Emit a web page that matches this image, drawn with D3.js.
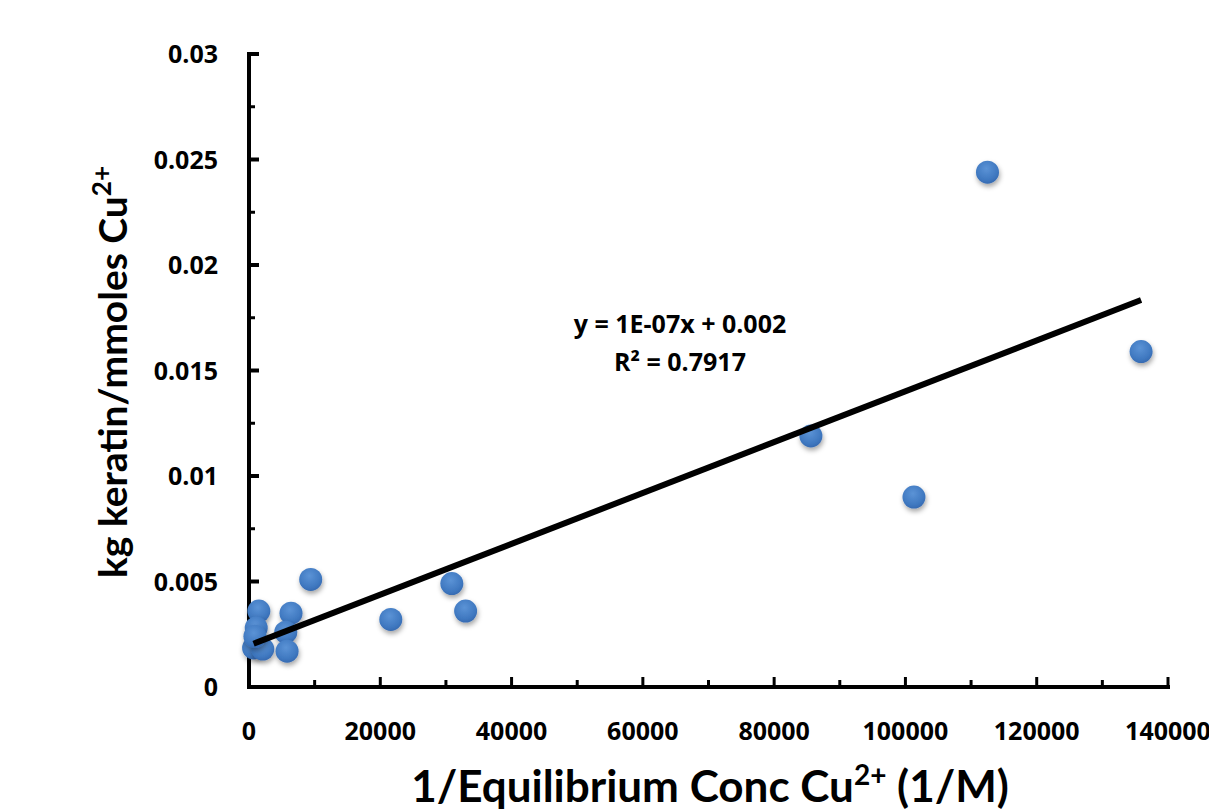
<!DOCTYPE html>
<html>
<head>
<meta charset="utf-8">
<script src="https://cdn.jsdelivr.net/npm/d3@7"></script>
<style>
  html, body { margin: 0; padding: 0; background: #fff; }
  svg { display: block; font-family: Lato, "Open Sans", "Liberation Sans", sans-serif; font-weight: bold; }
  .tick-label, .eq-label { font-family: "Open Sans", Lato, sans-serif; font-weight: 700; }
</style>
</head>
<body>
<svg id="chart" width="1209" height="809"></svg>
<script>
// Inverse equilibrium concentration (1/M) and keratin per copper uptake
const xValues = [112500, 135900, 85600, 101300, 9400, 30900, 33000, 21600,
                 1500, 6400, 1100, 5600, 700, 2100, 5800, 900];
const yValues = [0.0244, 0.0159, 0.0119, 0.0090, 0.0051, 0.0049, 0.0036, 0.0032,
                 0.0036, 0.0035, 0.0028, 0.0026, 0.00185, 0.0018, 0.0017, 0.0024];

const xTicks = [0, 20000, 40000, 60000, 80000, 100000, 120000, 140000];
const yTicks = [0, 0.005, 0.01, 0.015, 0.02, 0.025, 0.03];
const xMinorTicks = [10000, 30000, 50000, 70000, 90000, 110000, 130000];
const yMinorTicks = [0.0025, 0.0075, 0.0125, 0.0175, 0.0225, 0.0275];

const equationLines = ["y = 1E-07x + 0.002", "R² = 0.7917"];

(function () {
const svg = d3.select("#chart");
const plotLeft = 249, plotRight = 1168, plotTop = 54, plotBottom = 687;

const x = d3.scaleLinear().domain([0, 140000]).range([plotLeft, plotRight]);
const y = d3.scaleLinear().domain([0, 0.03]).range([plotBottom, plotTop]);

const defs = svg.append("defs");
const grad = defs.append("radialGradient").attr("id", "dotFill")
  .attr("cx", "45%").attr("cy", "35%").attr("r", "70%");
grad.append("stop").attr("offset", "0%").attr("stop-color", "#5b93d6");
grad.append("stop").attr("offset", "70%").attr("stop-color", "#3f78c0");
grad.append("stop").attr("offset", "100%").attr("stop-color", "#3366ad");
const shadow = defs.append("filter").attr("id", "dotShadow")
  .attr("x", "-50%").attr("y", "-50%").attr("width", "200%").attr("height", "200%");
shadow.append("feDropShadow").attr("dx", 1).attr("dy", 3).attr("stdDeviation", 2.5)
  .attr("flood-color", "#000").attr("flood-opacity", 0.35);

// Least-squares trendline through the data
const n = xValues.length;
const mx = d3.mean(xValues), my = d3.mean(yValues);
let sxy = 0, sxx = 0;
for (let i = 0; i < n; i++) {
  sxy += (xValues[i] - mx) * (yValues[i] - my);
  sxx += (xValues[i] - mx) ** 2;
}
const slope = sxy / sxx;
const intercept = my - slope * mx;
const xLo = d3.min(xValues), xHi = d3.max(xValues);

// Axes
const axisG = svg.append("g").attr("stroke", "#000").attr("fill", "none");
axisG.append("line").attr("x1", plotLeft).attr("x2", plotLeft).attr("y1", plotTop - 2).attr("y2", plotBottom + 2)
  .attr("stroke-width", 4);
axisG.append("line").attr("x1", plotLeft - 2).attr("x2", plotRight + 2).attr("y1", plotBottom).attr("y2", plotBottom)
  .attr("stroke-width", 4);

axisG.selectAll(".ymaj").data(yTicks).join("line")
  .attr("x1", plotLeft).attr("x2", plotLeft + 10).attr("y1", d => y(d)).attr("y2", d => y(d))
  .attr("stroke-width", 4);
axisG.selectAll(".ymin").data(yMinorTicks).join("line")
  .attr("x1", plotLeft).attr("x2", plotLeft + 6).attr("y1", d => y(d)).attr("y2", d => y(d))
  .attr("stroke-width", 3);
axisG.selectAll(".xmaj").data(xTicks.slice(1)).join("line")
  .attr("x1", d => x(d)).attr("x2", d => x(d)).attr("y1", plotBottom).attr("y2", plotBottom - 10)
  .attr("stroke-width", 3);
axisG.selectAll(".xmin").data(xMinorTicks).join("line")
  .attr("x1", d => x(d)).attr("x2", d => x(d)).attr("y1", plotBottom).attr("y2", plotBottom - 7)
  .attr("stroke-width", 3);

// Tick labels
svg.append("g").selectAll("text").data(yTicks).join("text")
  .attr("class", "tick-label")
  .attr("x", 218).attr("y", d => y(d)).attr("dy", "0.36em")
  .attr("text-anchor", "end").attr("font-size", 25)
  .text(d => d3.format("")(d));
svg.append("g").selectAll("text").data(xTicks).join("text")
  .attr("class", "tick-label")
  .attr("x", d => x(d)).attr("y", 731).attr("dy", "0.36em")
  .attr("text-anchor", "middle").attr("font-size", 25)
  .text(d => d);

// Data points
svg.append("g").selectAll("circle").data(xValues.map((v, i) => [v, yValues[i]])).join("circle")
  .attr("cx", d => x(d[0])).attr("cy", d => y(d[1])).attr("r", 11.5)
  .attr("fill", "url(#dotFill)").attr("filter", "url(#dotShadow)");

// Trendline
svg.append("line")
  .attr("x1", x(xLo)).attr("y1", y(slope * xLo + intercept))
  .attr("x2", x(xHi)).attr("y2", y(slope * xHi + intercept))
  .attr("stroke", "#000").attr("stroke-width", 6);

// Equation label
const eq = svg.append("text").attr("class", "eq-label").attr("text-anchor", "middle").attr("font-size", 25);
eq.append("tspan").attr("x", 680).attr("y", 333).text(equationLines[0]);
eq.append("tspan").attr("x", 680).attr("y", 371).text(equationLines[1]);

// Axis titles
const xt = svg.append("text").attr("x", 710).attr("y", 802).attr("text-anchor", "middle").attr("font-size", 44);
xt.append("tspan").text("1/Equilibrium Conc Cu");
xt.append("tspan").attr("font-size", 28).attr("dy", -17).text("2+");
xt.append("tspan").attr("dy", 17).text(" (1/M)");

const yt = svg.append("text").attr("transform", "translate(127,372) rotate(-90)")
  .attr("text-anchor", "middle").attr("font-size", 39);
yt.append("tspan").text("kg keratin/mmoles Cu");
yt.append("tspan").attr("font-size", 26).attr("dy", -16).text("2+");
})();
</script>
</body>
</html>
